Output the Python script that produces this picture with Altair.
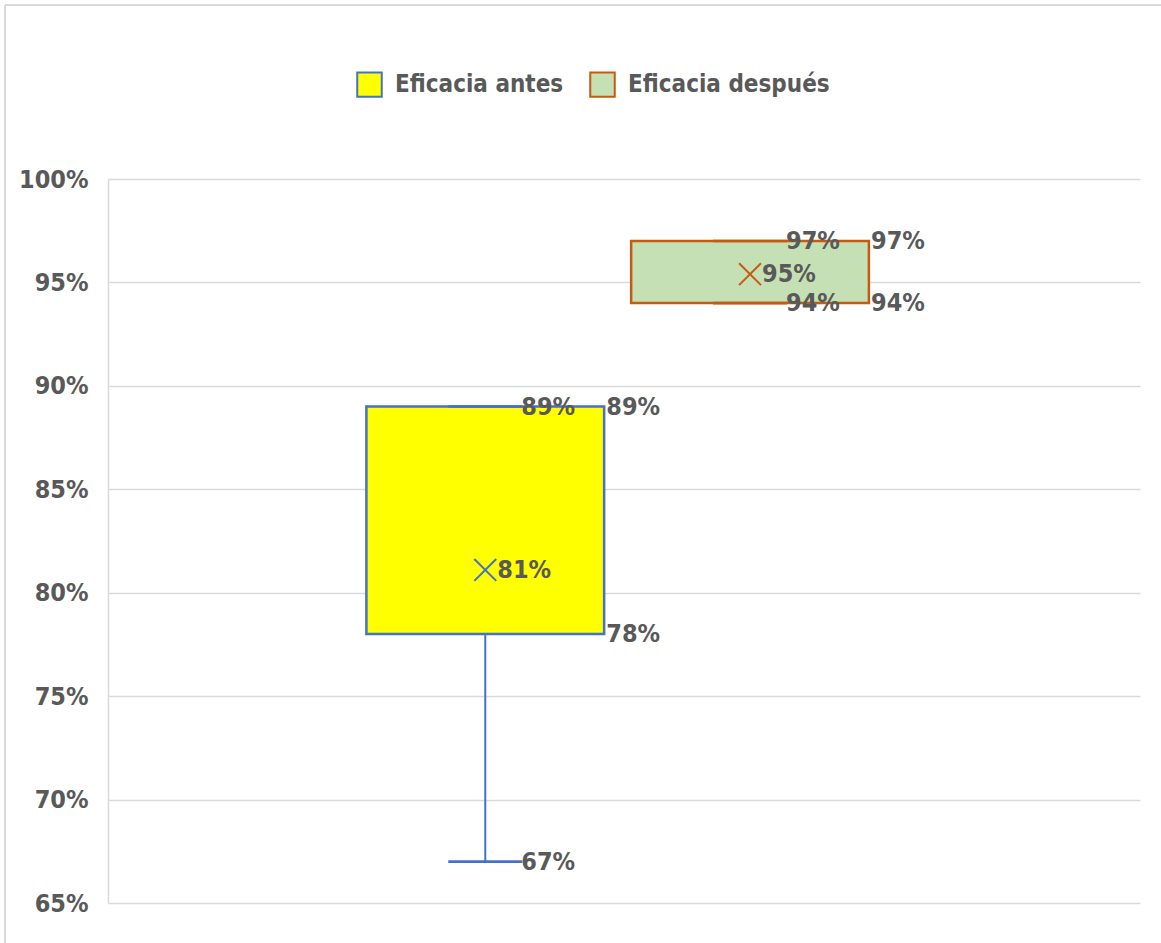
import altair as alt
import pandas as pd

series = ["Eficacia antes", "Eficacia después"]
minimum = [0.67, 0.94]
q1 = [0.78, 0.94]
q3 = [0.89, 0.97]
maximum = [0.89, 0.97]
mean = [0.811, 0.954]
y_ticks = [0.65, 0.70, 0.75, 0.80, 0.85, 0.90, 0.95, 1.00]

fills = ["#ffff00", "#c5e0b4"]
strokes = ["#4472c4", "#c55a11"]
TEXT = "#595959"
GRID = "#d9d9d9"
FONT = "Liberation Sans Narrow, Arial Narrow, DejaVu Sans Condensed, sans-serif"
FS = 25

df = pd.DataFrame({"serie": series, "min": minimum, "q1": q1, "q3": q3,
                   "max": maximum, "mean": mean})

inner = pd.DataFrame({"serie": series * 2, "v": minimum + maximum})
outer = pd.DataFrame({"serie": series * 2, "v": q1 + q3})

xenc = alt.X("serie:N", scale=alt.Scale(domain=series, paddingInner=0.102,
                                        paddingOuter=1.0, align=0.488), axis=None)
yscale = alt.Scale(domain=[0.65, 1.0], nice=False, zero=False)
yaxis = alt.Axis(values=y_ticks, format=".0%", title=None, ticks=False,
                 grid=True, gridColor=GRID, gridWidth=1.5,
                 domain=True, domainColor=GRID, domainWidth=1.5,
                 labelFont=FONT, labelFontSize=FS, labelFontWeight="bold",
                 labelColor=TEXT, labelPadding=20)
leg = alt.Legend(title=None, orient="none", legendX=248, legendY=-108,
                 direction="horizontal", symbolType="square", symbolSize=600,
                 symbolStrokeWidth=2, labelFont=FONT, labelFontSize=24,
                 labelFontWeight="bold", labelColor=TEXT, columnPadding=22,
                 labelOffset=12, labelLimit=500, symbolOpacity=1)
fill_enc = alt.Fill("serie:N", scale=alt.Scale(domain=series, range=fills), legend=leg)
stroke_enc = alt.Stroke("serie:N", scale=alt.Scale(domain=series, range=strokes), legend=leg)

base = alt.Chart(df)

whisker = base.mark_rule(strokeWidth=2, opacity=1).encode(
    x=xenc, y=alt.Y("min:Q", scale=yscale, axis=yaxis), y2="q1:Q", stroke=stroke_enc)
whisker2 = base.mark_rule(strokeWidth=2, opacity=1).encode(
    x=xenc, y=alt.Y("q3:Q", scale=yscale), y2="max:Q", stroke=stroke_enc)
box = base.mark_bar(strokeWidth=2.5, opacity=1).encode(
    x=xenc, y=alt.Y("q1:Q", scale=yscale), y2="q3:Q", fill=fill_enc, stroke=stroke_enc)
cap_min = base.mark_tick(size=72, thickness=0.6, strokeWidth=2, filled=False, opacity=1).encode(
    x=xenc, y=alt.Y("min:Q", scale=yscale), stroke=stroke_enc)
cap_max = base.mark_tick(size=72, thickness=0.6, strokeWidth=2, filled=False, opacity=1).encode(
    x=xenc, y=alt.Y("max:Q", scale=yscale), stroke=stroke_enc)
mean_pt = base.mark_point(shape="M-1,-1L1,1M-1,1L1,-1", size=480, filled=False,
                          strokeWidth=2, opacity=1).encode(
    x=xenc, y=alt.Y("mean:Q", scale=yscale), stroke=stroke_enc)

txt = dict(align="left", baseline="middle", font=FONT, fontSize=FS,
           fontWeight="bold", color=TEXT)
mean_lbl = base.mark_text(dx=12, **txt).encode(
    x=xenc, y=alt.Y("mean:Q", scale=yscale), text=alt.Text("mean:Q", format=".0%"))
inner_lbl = alt.Chart(inner).mark_text(dx=36, **txt).encode(
    x=xenc, y=alt.Y("v:Q", scale=yscale), text=alt.Text("v:Q", format=".0%"))
outer_lbl = alt.Chart(outer).mark_text(dx=121, **txt).encode(
    x=xenc, y=alt.Y("v:Q", scale=yscale), text=alt.Text("v:Q", format=".0%"))

frame_top = alt.Chart(df).mark_rule(color=GRID, strokeWidth=2).encode(
    x=alt.value(-103), x2=alt.value(1053), y=alt.value(-174))
frame_left = alt.Chart(df).mark_rule(color=GRID, strokeWidth=2).encode(
    x=alt.value(-103), y=alt.value(-174), y2=alt.value(764))

chart = alt.layer(
    frame_top, frame_left, whisker, whisker2, box, cap_min, cap_max, mean_pt,
    mean_lbl, inner_lbl, outer_lbl
).properties(
    width=1032, height=724,
    autosize=alt.AutoSizeParams(type="none"),
    padding={"left": 108, "top": 179, "right": 21, "bottom": 40},
    background="white",
).configure_view(stroke=None)

chart.save("out.html", embed_options={"renderer": "svg", "actions": False})
